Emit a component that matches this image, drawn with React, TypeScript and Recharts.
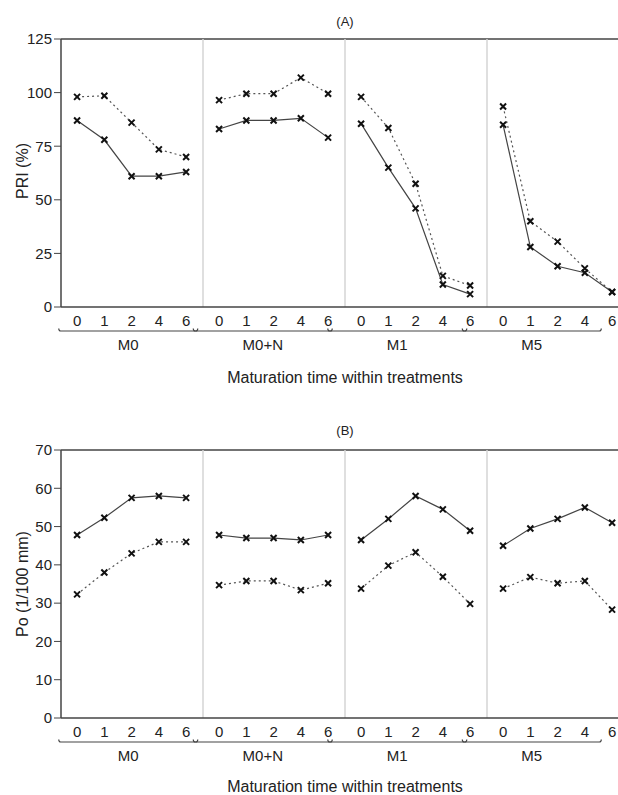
import React from "react";
import { LineChart, Line, XAxis, YAxis, ReferenceLine } from "recharts";

// treatments and maturation times (x axis)
const groups = ["M0", "M0+N", "M1", "M5"];
const times = ["0", "1", "2", "4", "6"];

// (A) PRI (%)
const priTicks = [0, 25, 50, 75, 100, 125];
const priSolid = [
  [87, 78, 61, 61, 63],
  [83, 87, 87, 88, 79],
  [85.5, 65, 46, 10.5, 6],
  [85, 28, 19, 16, 7],
];
const priDotted = [
  [98, 98.5, 86, 73.5, 70],
  [96.5, 99.5, 99.5, 107, 99.5],
  [98, 83.5, 57.5, 14.5, 10],
  [93.5, 40, 30.5, 18, 7],
];

// (B) Po (1/100 mm)
const poTicks = [0, 10, 20, 30, 40, 50, 60, 70];
const poSolid = [
  [47.8, 52.3, 57.5, 58, 57.5],
  [47.8, 47, 47, 46.5, 47.8],
  [46.5, 52, 58, 54.5, 48.9],
  [45, 49.5, 52, 55, 51],
];
const poDotted = [
  [32.3, 38, 43, 46, 46],
  [34.7, 35.8, 35.8, 33.4, 35.2],
  [33.8, 39.8, 43.3, 36.9, 29.8],
  [33.8, 36.8, 35.2, 35.8, 28.3],
];

// x layout: each treatment block is SPAN units wide, points 1 unit apart
const SPAN = 5.21;
const OFFSET = 0.59;
const X_MAX = SPAN * groups.length;
const PLOT_W = 568;
const PX = PLOT_W / X_MAX;

const FONT = "'Liberation Sans', Arial, sans-serif";
const INK = "#222";
const AXIS = "#444";

const pointXs: number[] = [];
groups.forEach((_, g) => times.forEach((_, j) => pointXs.push(g * SPAN + OFFSET + j)));
const groupCenters = groups.map((_, g) => g * SPAN + SPAN / 2);
const dividers = groups.slice(1).map((_, g) => (g + 1) * SPAN);

function buildRows(solid: number[][], dotted: number[][]) {
  const rows: { x: number; solid: number | null; dotted: number | null }[] = [];
  groups.forEach((_, g) => {
    times.forEach((_, j) =>
      rows.push({ x: g * SPAN + OFFSET + j, solid: solid[g][j], dotted: dotted[g][j] })
    );
    // break the lines between treatments
    if (g < groups.length - 1) rows.push({ x: (g + 1) * SPAN, solid: null, dotted: null });
  });
  return rows;
}

const Cross = (props: any) => {
  const { cx, cy, index } = props;
  if (cx == null || cy == null) return <g key={`n${index}`} />;
  const s = 3;
  return (
    <path
      key={`c${index}`}
      d={`M${cx - s},${cy - s}L${cx + s},${cy + s}M${cx + s},${cy - s}L${cx - s},${cy + s}`}
      stroke="#111"
      strokeWidth={2}
    />
  );
};

const TimeTick = (props: any) => {
  const { x, y, index } = props;
  return (
    <text x={x} y={y + 19} textAnchor="middle" fontSize={15} fill={INK} fontFamily={FONT}>
      {times[index % times.length]}
    </text>
  );
};

const GroupTick = (props: any) => {
  const { x, y, index } = props;
  const h = (SPAN / 2) * PX - 1.5;
  const by = y + 4;
  return (
    <g>
      <path
        d={`M${x - h},${by - 2.5}Q${x - h},${by} ${x - h + 2},${by}L${x + h - 2},${by}Q${x + h},${by} ${x + h},${by - 2.5}`}
        fill="none"
        stroke={AXIS}
        strokeWidth={1.2}
      />
      <text x={x} y={y + 23} textAnchor="middle" fontSize={15} fill={INK} fontFamily={FONT}>
        {groups[index]}
      </text>
    </g>
  );
};

// rotated y-axis title, placed at the left edge of the axis box
const yTitle = (text: string, shift: number) => (props: any) => {
  const vb = props.viewBox || {};
  const cx = (vb.x ?? 21) + 1;
  const cy = (vb.y ?? 0) + (vb.height ?? 0) / 2 + shift;
  return (
    <text
      x={cx}
      y={cy}
      transform={`rotate(-90, ${cx}, ${cy})`}
      textAnchor="middle"
      dominantBaseline="central"
      fontSize={16}
      fill={INK}
      fontFamily={FONT}
    >
      {text}
    </text>
  );
};

interface PanelProps {
  title: string;
  yLabel: string;
  ticks: number[];
  solid: number[][];
  dotted: number[][];
  top: number;
  titleOffset: number;
  labelShift: number;
  xTitleOffset: number;
}

function Panel({ title, yLabel, ticks, solid, dotted, top, titleOffset, labelShift, xTitleOffset }: PanelProps) {
  const data = buildRows(solid, dotted);
  const yMax = ticks[ticks.length - 1];
  return (
    <LineChart
      width={640}
      height={top + 268 + 93}
      data={data}
      margin={{ top, right: 11, bottom: 0, left: 21 }}
      style={{ fontFamily: FONT }}
    >
      <XAxis
        dataKey="x"
        type="number"
        domain={[0, X_MAX]}
        ticks={pointXs}
        interval={0}
        tickLine={false}
        tickSize={0}
        tickMargin={0}
        axisLine={{ stroke: AXIS, strokeWidth: 1.5 }}
        tick={TimeTick}
        height={20}
      />
      <XAxis
        xAxisId="grp"
        type="number"
        domain={[0, X_MAX]}
        ticks={groupCenters}
        interval={0}
        tickLine={false}
        tickSize={0}
        tickMargin={0}
        axisLine={false}
        tick={GroupTick}
        height={73}
        label={{
          value: "Maturation time within treatments",
          position: "insideBottom",
          offset: xTitleOffset,
          fill: INK,
          fontSize: 16,
        }}
      />
      <YAxis
        type="number"
        domain={[0, yMax]}
        ticks={ticks}
        interval={0}
        width={40}
        tickSize={7}
        tickMargin={2}
        axisLine={{ stroke: AXIS, strokeWidth: 1.5 }}
        tickLine={{ stroke: AXIS }}
        tick={{ fill: INK, fontSize: 15 }}
        label={{ value: yLabel, content: yTitle(yLabel, labelShift) }}
      />
      <ReferenceLine
        y={yMax}
        stroke={AXIS}
        strokeWidth={1.5}
        label={{ value: title, position: "top", offset: titleOffset, fill: INK, fontSize: 13 }}
      />
      {dividers.map((d) => (
        <ReferenceLine key={d} x={d} stroke="#d4d4d4" strokeWidth={1.5} />
      ))}
      <Line
        dataKey="dotted"
        stroke="#555"
        strokeWidth={1.2}
        strokeDasharray="2 3"
        dot={Cross}
        activeDot={false}
        isAnimationActive={false}
      />
      <Line
        dataKey="solid"
        stroke="#444"
        strokeWidth={1.2}
        dot={Cross}
        activeDot={false}
        isAnimationActive={false}
      />
    </LineChart>
  );
}

export default function App() {
  return (
    <div
      style={{
        position: "fixed",
        left: 0,
        top: 0,
        width: 618,
        height: 795,
        overflow: "hidden",
        background: "#fff",
      }}
    >
      <Panel
        title="(A)"
        yLabel="PRI (%)"
        ticks={priTicks}
        solid={priSolid}
        dotted={priDotted}
        top={39}
        titleOffset={13}
        labelShift={-2}
        xTitleOffset={17}
      />
      <Panel
        title="(B)"
        yLabel="Po (1/100 mm)"
        ticks={poTicks}
        solid={poSolid}
        dotted={poDotted}
        top={50}
        titleOffset={15}
        labelShift={0}
        xTitleOffset={19}
      />
    </div>
  );
}
